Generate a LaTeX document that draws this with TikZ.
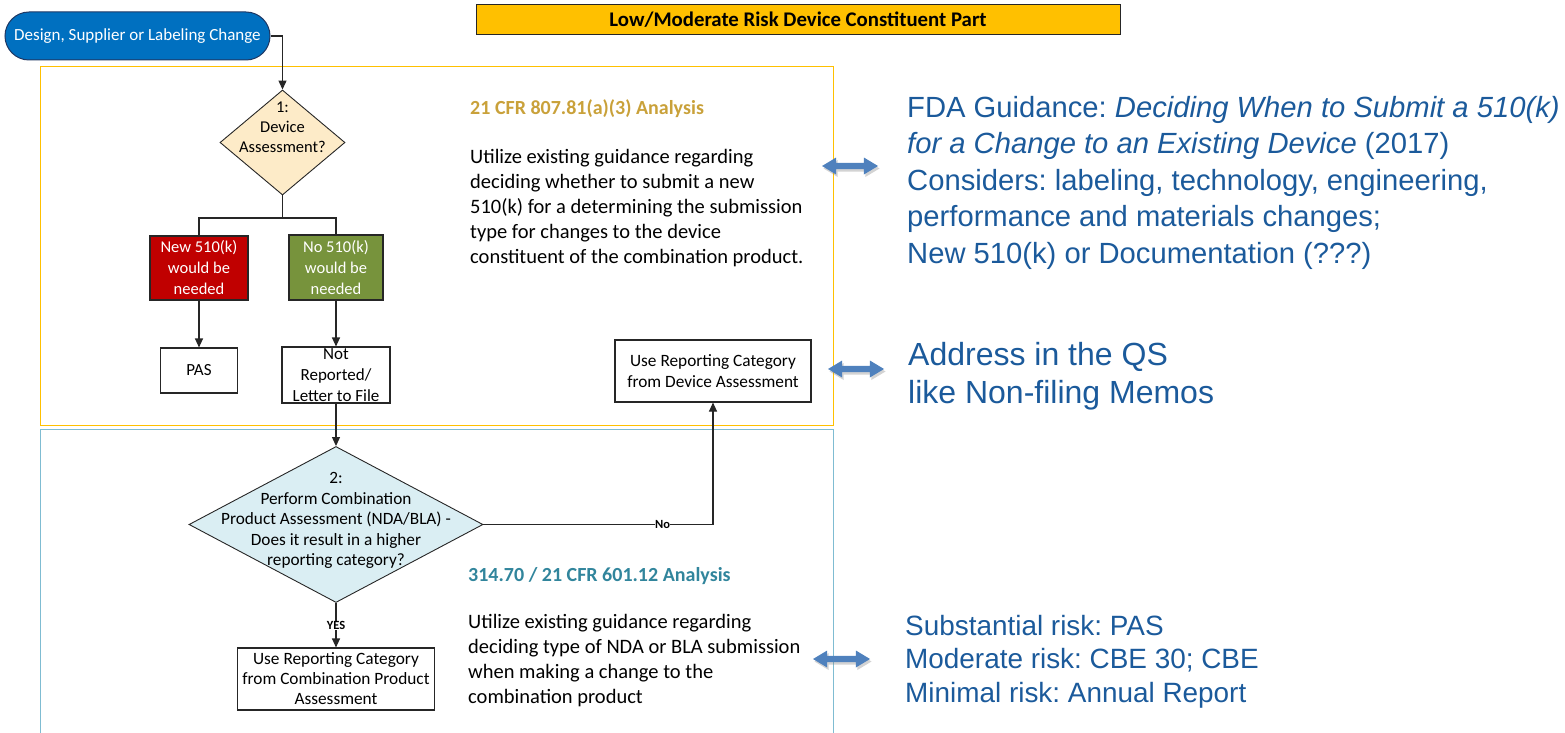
\documentclass[tikz,border=0pt]{standalone}
\usepackage{fontspec}
\setmainfont{Carlito}
\newfontfamily\arialf{Liberation Sans}
\usetikzlibrary{shapes.geometric,shapes.arrows,arrows.meta,shadows}
\definecolor{termblue}{HTML}{0070C0}
\definecolor{termedge}{HTML}{1F3864}
\definecolor{gold}{HTML}{FFC000}
\definecolor{frameblue}{HTML}{7FBCD2}
\definecolor{dfill}{HTML}{FDEBC8}
\definecolor{dfilltwo}{HTML}{DAEEF3}
\definecolor{redbox}{HTML}{C00000}
\definecolor{greenbox}{HTML}{77933C}
\definecolor{goldtext}{HTML}{C9A13A}
\definecolor{tealtext}{HTML}{31859C}
\definecolor{arrowblue}{HTML}{4F81BD}
\definecolor{righttext}{HTML}{1B5A9B}
\definecolor{edgegray}{HTML}{262626}
\begin{document}
\frenchspacing
\begin{tikzpicture}[x=1pt,y=-1pt,
  conn/.style={draw=edgegray,line width=1.1pt},
  arr/.style={conn,-{Triangle[length=9pt,width=8pt]}},
  plainbox/.style={draw=edgegray,line width=1.1pt,fill=white,align=center,inner sep=0pt,
     font=\fontsize{17}{21}\selectfont},
  colbox/.style={draw=edgegray,line width=1.1pt,align=center,inner sep=0pt,text=white,
     font=\fontsize{16.5}{21}\selectfont},
  diam/.style={diamond,draw=edgegray,line width=0.9pt,inner sep=0pt},
  dtext/.style={align=center,inner sep=0pt,font=\fontsize{16.5}{20}\selectfont},
  lab/.style={fill=white,inner sep=0.5pt,font=\bfseries\fontsize{12.5}{13}\selectfont},
  dbl/.style={double arrow,fill=arrowblue,inner sep=2.6pt,minimum width=17pt,
     double arrow head extend=5pt,double arrow tip angle=62,
     drop shadow={opacity=0.35,shadow xshift=1.5pt,shadow yshift=-2.5pt}},
  rtext/.style={anchor=north west,align=left,inner sep=0pt,text=righttext}
]
\useasboundingbox (0,0) rectangle (1565,733);

% frames
\draw[gold,line width=1pt] (40,67) rectangle (833,425);
\draw[frameblue,line width=1pt] (40,740) -- (40,429) -- (833,429) -- (833,740);

% title
\node[draw=edgegray,line width=1pt,fill=gold,minimum width=644pt,minimum height=30pt,inner sep=0pt,
  font=\bfseries\fontsize{20.8}{22}\selectfont] (title) at (798,20) {Low/Moderate Risk Device Constituent Part};

% start terminal
\node[draw=termedge,line width=1pt,fill=termblue,rounded corners=24pt,minimum width=265pt,
  minimum height=48pt,inner sep=0pt,text=white,font=\fontsize{17}{20}\selectfont] (start) at (137.5,36) {Design, Supplier or Labeling Change};

% diamond 1
\node[diam,fill=dfill,minimum width=125pt,minimum height=105pt] (d1) at (282.5,142.5) {};
\node[dtext] (d1t) at (282.5,127) {1:\\Device\\Assessment?};

% coloured boxes
\coordinate (j1) at (282.5,218);
\node[colbox,fill=redbox,minimum width=98pt,minimum height=64pt] (red) at (199,268) {New 510(k)\\would be\\needed};
\node[colbox,fill=greenbox,minimum width=94pt,minimum height=65pt] (green) at (336,267.5) {No 510(k)\\would be\\needed};

\node[plainbox,minimum width=77pt,minimum height=45pt] (pas) at (199,370.5) {PAS};
\node[plainbox,minimum width=108pt,minimum height=56pt] (notrep) at (336,375) {Not\\Reported/\\Letter to File};
\node[plainbox,minimum width=196pt,minimum height=62pt,font=\fontsize{17.3}{21.5}\selectfont] (dev) at (713,371) {Use Reporting Category\\from Device Assessment};

% diamond 2
\node[diam,fill=dfilltwo,minimum width=294pt,minimum height=156pt] (d2) at (336,524.5) {};
\node[dtext,font=\fontsize{17.25}{20.5}\selectfont] (d2t) at (336,520.5) {2:\\Perform Combination\\Product Assessment (NDA/BLA) -\\Does it result in a higher\\reporting category?};

\node[plainbox,minimum width=197pt,minimum height=62pt,font=\fontsize{17.3}{20}\selectfont] (combo) at (336,679) {Use Reporting Category\\from Combination Product\\Assessment};

% connectors
\draw[arr] (start.east) -| (d1.north);
\draw[conn] (d1.south) -- (j1);
\draw[conn] (red.north) |- (j1) -| (green.north);
\draw[arr] (red.south) -- (pas.north);
\draw[arr] (green.south) -- (notrep.north);
\draw[arr] (notrep.south) -- (d2.north);
\draw[arr] (d2.south) -- node[lab,pos=0.5] {YES} (combo.north);
\draw[arr] (d2.east) -| node[lab,pos=0.39] {No} (dev.south);

% analysis texts
\node[anchor=north west,inner sep=0pt,text=goldtext,font=\bfseries\fontsize{20}{25}\selectfont] (h1) at (470,99) {21 CFR 807.81(a)(3) Analysis};
\node[anchor=north west,align=left,inner sep=0pt,font=\fontsize{20.5}{25}\selectfont] (b1) at (470,149)
 {Utilize existing guidance regarding\\deciding whether to submit a new\\510(k) for a determining the submission\\type for changes to the device\\constituent of the combination product.};
\node[anchor=north west,inner sep=0pt,text=tealtext,font=\bfseries\fontsize{20}{25}\selectfont] (h2) at (468,567) {314.70 / 21 CFR 601.12 Analysis};
\node[anchor=north west,align=left,inner sep=0pt,font=\fontsize{20.5}{25}\selectfont] (b2) at (468,614)
 {Utilize existing guidance regarding\\deciding type of NDA or BLA submission\\when making a change to the\\combination product};

% double arrows
\node[dbl,minimum height=56pt] (a1) at (850,166) {};
\node[dbl,minimum height=56pt] (a2) at (856,369) {};
\node[dbl,minimum height=57pt] (a3) at (841.5,659) {};

% right texts
\node[rtext,font=\arialf\fontsize{29.2}{36.5}\selectfont] (r1) at (907,96)
 {FDA Guidance: \textit{Deciding When to Submit a 510(k)}\\\textit{for a Change to an Existing Device} (2017)\\Considers: labeling, technology, engineering,\\performance and materials changes;\\New 510(k) or Documentation (???)};
\node[rtext,font=\arialf\fontsize{32}{38}\selectfont] (r2) at (908,342)
 {Address in the QS\\like Non-filing Memos};
\node[rtext,font=\arialf\fontsize{27.9}{33.5}\selectfont] (r3) at (905,615)
 {Substantial risk: PAS\\Moderate risk: CBE 30; CBE\\Minimal risk: Annual Report};
\end{tikzpicture}
\end{document}
